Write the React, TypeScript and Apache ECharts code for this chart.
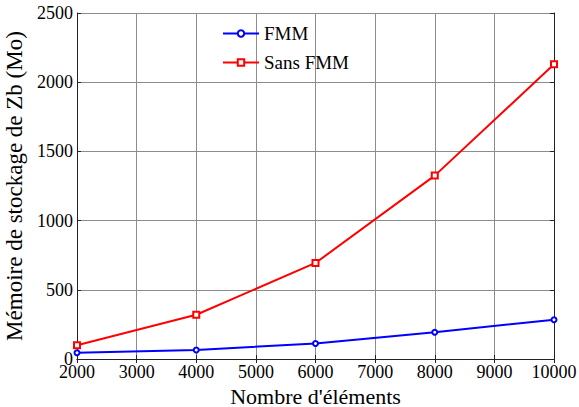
import React, { useEffect, useRef } from "react";
import * as echarts from "echarts";

const categories = [2000, 4000, 6000, 8000, 10000];
const fmm = [45, 65, 112, 193, 284];
const sansFmm = [99, 320, 694, 1325, 2129];
const xTicks = [2000, 3000, 4000, 5000, 6000, 7000, 8000, 9000, 10000];
const yTicks = [0, 500, 1000, 1500, 2000, 2500];

const FONT = "Liberation Serif";

export default function App() {
  const ref = useRef<HTMLDivElement>(null);
  useEffect(() => {
    if (!ref.current) return;
    const chart = echarts.init(ref.current, null, { renderer: "svg" });
    const gridLine = { show: true, lineStyle: { color: "#8c8c8c", width: 1, type: "solid" as const } };
    const axLine = { show: true, lineStyle: { color: "#222" } };
    const tick = { show: true, inside: true, length: 4, lineStyle: { color: "#222" } };
    const xMin = xTicks[0];
    const xMax = xTicks[xTicks.length - 1];
    const yMin = yTicks[0];
    const yMax = yTicks[yTicks.length - 1];
    chart.setOption({
      animation: false,
      backgroundColor: "#fff",
      textStyle: { fontFamily: FONT },
      grid: { left: 77, right: 25, top: 13, bottom: 48, containLabel: false, outerBoundsMode: "none" },
      legend: {
        orient: "vertical",
        left: 222,
        top: 24,
        padding: 0,
        itemWidth: 36,
        itemHeight: 8,
        itemGap: 10,
        textStyle: { fontFamily: FONT, fontSize: 19, color: "#000" },
        data: ["FMM", "Sans FMM"],
      },
      xAxis: [
        {
          type: "value",
          min: xMin,
          max: xMax,
          interval: 1000,
          name: "Nombre d'éléments",
          nameLocation: "middle",
          nameGap: 18,
          nameTextStyle: { fontFamily: FONT, fontSize: 22, lineHeight: 22, color: "#000" },
          axisLine: axLine,
          axisTick: tick,
          axisLabel: { fontFamily: FONT, fontSize: 18, color: "#000", margin: 4, formatter: (v: number) => String(v) },
          splitLine: gridLine,
        },
        {
          type: "value",
          position: "top",
          min: xMin,
          max: xMax,
          interval: 1000,
          axisLine: axLine,
          axisTick: tick,
          axisLabel: { show: false },
          splitLine: { show: false },
        },
      ],
      yAxis: [
        {
          type: "value",
          min: yMin,
          max: yMax,
          interval: 500,
          name: "Mémoire de stockage de Zb (Mo)",
          nameLocation: "middle",
          nameGap: 47,
          nameTextStyle: { fontFamily: FONT, fontSize: 23, color: "#000" },
          axisLine: axLine,
          axisTick: tick,
          axisLabel: { fontFamily: FONT, fontSize: 18, color: "#000", margin: 4, formatter: (v: number) => String(v) },
          splitLine: gridLine,
        },
        {
          type: "value",
          position: "right",
          min: yMin,
          max: yMax,
          interval: 500,
          axisLine: axLine,
          axisTick: tick,
          axisLabel: { show: false },
          splitLine: { show: false },
        },
      ],
      series: [
        {
          name: "FMM",
          type: "line",
          xAxisIndex: 0,
          yAxisIndex: 0,
          data: categories.map((c, i) => [c, fmm[i]]),
          symbol: "emptyCircle",
          symbolSize: 5,
          itemStyle: { color: "#0000ff", borderWidth: 1.5 },
          lineStyle: { color: "#0000ff", width: 2 },
        },
        {
          name: "Sans FMM",
          type: "line",
          xAxisIndex: 0,
          yAxisIndex: 0,
          data: categories.map((c, i) => [c, sansFmm[i]]),
          symbol: "emptyRect",
          symbolSize: 6,
          itemStyle: { color: "#ff0000", borderWidth: 1.5 },
          lineStyle: { color: "#ff0000", width: 2 },
        },
      ],
    });
    return () => chart.dispose();
  }, []);
  return <div ref={ref} style={{ position: "fixed", left: 0, top: 0, width: 579, height: 407 }} />;
}
